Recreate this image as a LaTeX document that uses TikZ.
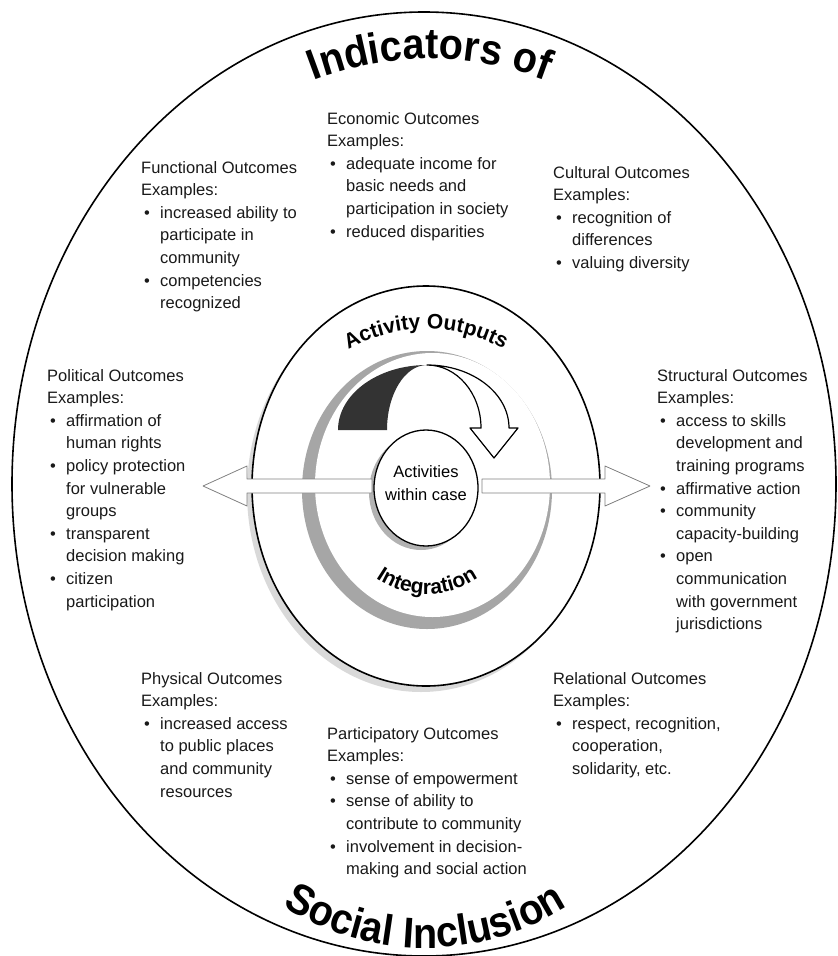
\documentclass[tikz,border=0pt]{standalone}
\usepackage{fontspec}
\setmainfont{Liberation Sans}
\newfontfamily\titlefont[FakeStretch=0.92]{Liberation Sans}
\usetikzlibrary{decorations.text}
\def\bodysize{\fontsize{16.5}{22.6}\selectfont}
\def\bigtitle{\titlefont\bfseries\fontsize{43}{43}\selectfont}
\def\ringtitle{\bfseries\fontsize{21}{21}\selectfont}
\newcommand{\bulletmark}{\makebox[19pt][l]{\hspace{3pt}\textbullet}}
\newcommand{\hangin}{\hspace*{19pt}}

\begin{document}
\begin{tikzpicture}[x=1pt, y=1pt, line join=round]
    \tikzstyle{outcome}=[anchor=north west, inner sep=0pt, align=left, font=\bodysize, text=black!90]
    \tikzstyle{block arrow}=[draw=black!50, fill=white, line width=0.8pt]
    \tikzstyle{ring label}=[decorate, decoration={text along path, text align=center}]
    \useasboundingbox (0,0) rectangle (838,-956);

    % Draw the outer ring
    \draw[line width=1.6pt] (424,-484) ellipse [x radius=412pt, y radius=472pt];

    % Draw the inner ring with its shadow
    \fill[black!15] (421,-492) ellipse [x radius=174pt, y radius=200pt];
    \draw[fill=white, line width=1.6pt] (426,-486) ellipse [x radius=174pt, y radius=200pt];

    % The grey integration band
    \fill[black!35] (427,-490) ellipse [x radius=125pt, y radius=139pt];
    \fill[white] (432.5,-485) ellipse [x radius=117.5pt, y radius=132pt];

    % Draw the core and its shadow
    \coordinate (corec) at (426,-488);
    \fill[black!30] (421,-492) ellipse [x radius=52pt, y radius=58pt];
    \draw[fill=white, line width=1.3pt] (corec) ellipse [x radius=52pt, y radius=58pt];
    \node[font=\bodysize, align=center, inner sep=0pt] (core) at (426,-483) {Activities\\within case};

    % Curved arrow: dark back, then the open front with its head
    \fill[black!80] (338,-430) arc[start angle=180, end angle=90, x radius=89pt, y radius=65pt]
        arc[start angle=90, end angle=180, x radius=40pt, y radius=65pt] -- cycle;
    \draw[fill=white, line width=1.2pt] (427,-365) arc[start angle=90, end angle=0, x radius=82pt, y radius=63pt]
        -- ++(9,0) -- (494,-458) -- (470,-428) -- (481,-428)
        arc[start angle=0, end angle=90, x radius=54pt, y radius=63pt] -- cycle;

    % Block arrows out of the core
    \coordinate (lefttip) at (203,-486);
    \coordinate (righttip) at (650,-486);
    \draw[block arrow] (lefttip) -- ++(44,20) -- ++(0,-13) -- ++(125,0) -- ++(0,-14)
        -- ++(-125,0) -- ++(0,-13) -- cycle;
    \draw[block arrow] (righttip) -- ++(-45,20) -- ++(0,-13) -- ++(-123,0) -- ++(0,-14)
        -- ++(123,0) -- ++(0,-13) -- cycle;

    % Curved labels
    \path[ring label, decoration={text={|\bigtitle|Indicators of}}]
        (430,-382) ++(125:323pt) arc[start angle=125, end angle=55, radius=323pt];
    \path[ring label, decoration={text={|\bigtitle|Social Inclusion}}]
        (425,-682) ++(225:266pt) arc[start angle=225, end angle=315, radius=266pt];
    \path[ring label, decoration={text={|\ringtitle|Activity Outputs}}]
        (426,-486) ++(135:157pt) arc[start angle=135, end angle=45, radius=157pt];
    \path[ring label, decoration={text={|\ringtitle|Integration}}]
        (427,-504) ++(215:90pt) arc[start angle=215, end angle=325, radius=90pt];

    % The outcome blocks
    \node[outcome] (economic) at (327,-112) {Economic Outcomes\\Examples:\\
        \bulletmark adequate income for\\\hangin basic needs and\\\hangin participation in society\\
        \bulletmark reduced disparities};
    \node[outcome] (functional) at (141,-161) {Functional Outcomes\\Examples:\\
        \bulletmark increased ability to\\\hangin participate in\\\hangin community\\
        \bulletmark competencies\\\hangin recognized};
    \node[outcome] (cultural) at (553,-166) {Cultural Outcomes\\Examples:\\
        \bulletmark recognition of\\\hangin differences\\
        \bulletmark valuing diversity};
    \node[outcome] (political) at (47,-369) {Political Outcomes\\Examples:\\
        \bulletmark affirmation of\\\hangin human rights\\
        \bulletmark policy protection\\\hangin for vulnerable\\\hangin groups\\
        \bulletmark transparent\\\hangin decision making\\
        \bulletmark citizen\\\hangin participation};
    \node[outcome] (structural) at (657,-369) {Structural Outcomes\\Examples:\\
        \bulletmark access to skills\\\hangin development and\\\hangin training programs\\
        \bulletmark affirmative action\\
        \bulletmark community\\\hangin capacity-building\\
        \bulletmark open\\\hangin communication\\\hangin with government\\\hangin jurisdictions};
    \node[outcome] (physical) at (141,-672) {Physical Outcomes\\Examples:\\
        \bulletmark increased access\\\hangin to public places\\\hangin and community\\\hangin resources};
    \node[outcome] (relational) at (553,-672) {Relational Outcomes\\Examples:\\
        \bulletmark respect, recognition,\\\hangin cooperation,\\\hangin solidarity, etc.};
    \node[outcome] (participatory) at (327,-727) {Participatory Outcomes\\Examples:\\
        \bulletmark sense of empowerment\\
        \bulletmark sense of ability to\\\hangin contribute to community\\
        \bulletmark involvement in decision-\\\hangin making and social action};
\end{tikzpicture}
\end{document}
